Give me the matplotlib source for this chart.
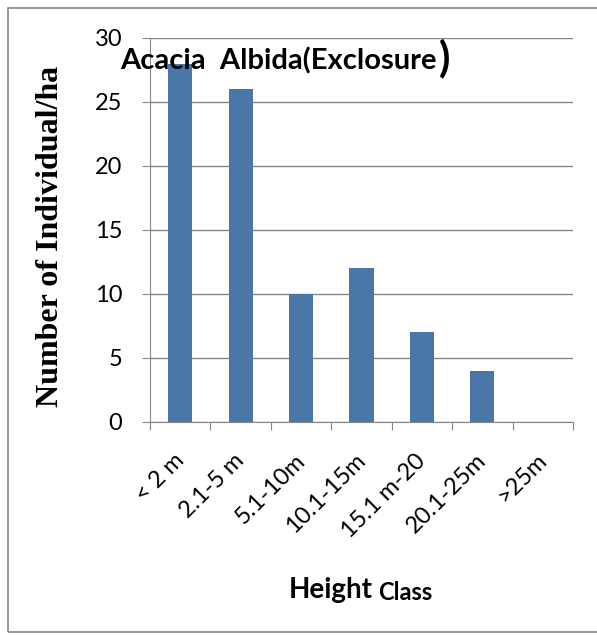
import matplotlib
matplotlib.use("Agg")
import matplotlib.pyplot as plt
from matplotlib.patches import Rectangle
from matplotlib.transforms import ScaledTranslation

categories = ["< 2 m", "2.1-5 m", "5.1-10m", "10.1-15m", "15.1 m-20", "20.1-25m", ">25m"]
values = [28, 26, 10, 12, 7, 4, 0]
yticks = [0, 5, 10, 15, 20, 25, 30]

sans = ["Lato", "DejaVu Sans"]
serif = ["Liberation Serif", "DejaVu Serif"]

fig = plt.figure(figsize=(5.97, 6.36), dpi=100)
fig.patch.set_facecolor("white")
fig.patches.append(Rectangle((8/597, 4/636), 1.0, (632-8)/636, transform=fig.transFigure,
                             fill=False, edgecolor="#868686", linewidth=1.2))

ax = fig.add_axes([150/597, 1-422/636, (573-150)/597, (422-38)/636])
x = list(range(len(categories)))
ax.bar(x, values, width=0.4, color="#4A76A8", zorder=3)
ax.set_xlim(-0.5, len(categories)-0.5)
ax.set_ylim(0, 30)
ax.set_yticks(yticks)
ax.set_yticklabels([str(v) for v in yticks], fontfamily=sans, fontsize=17)
ax.yaxis.grid(True, color="#868686", linewidth=1.0, zorder=0)
ax.set_axisbelow(True)
for s in ["top", "right"]:
    ax.spines[s].set_visible(False)
for s in ["left", "bottom"]:
    ax.spines[s].set_color("#868686")
ax.set_xticks([i - 0.5 for i in range(len(categories)+1)], minor=False)
ax.set_xticklabels([""]*(len(categories)+1))
ax.set_xticks(x, minor=True)
ax.set_xticklabels(categories, minor=True, rotation=45, ha="right", va="top",
                   rotation_mode="anchor", fontfamily=sans, fontsize=17)
ax.tick_params(axis="x", which="minor", length=0, pad=20)
ax.tick_params(axis="x", which="major", length=6, color="#868686")
ax.tick_params(axis="y", length=6, color="#868686", pad=14)
off = ScaledTranslation(-7/100, 0, fig.dpi_scale_trans)
for lab in ax.get_xticklabels(minor=True):
    lab.set_transform(lab.get_transform() + off)

t = fig.text(120/597, 1-61/636, "Acacia  Albida(Exclosure", fontfamily=sans, fontweight="bold",
             fontsize=21, va="center", ha="left")
fig.canvas.draw()
bb = t.get_window_extent(renderer=fig.canvas.get_renderer())
fig.text((bb.x1 + 2)/fig.bbox.width, 1-58/636, ")", fontfamily=sans, fontweight="bold",
         fontsize=30, va="center", ha="left")

fig.text(50/597, 1-236/636, "Number of Individual/ha", fontfamily=serif, fontweight="bold",
         fontsize=23, rotation=90, va="center", ha="center")

fig.text(373/597, 1-590/636, "Height", fontfamily=sans, fontweight="bold",
         fontsize=20, va="center", ha="right")
fig.text(378/597, 1-592/636, "Class", fontfamily=sans, fontweight="bold",
         fontsize=17, va="center", ha="left")

fig.savefig("out.png", dpi=100)
